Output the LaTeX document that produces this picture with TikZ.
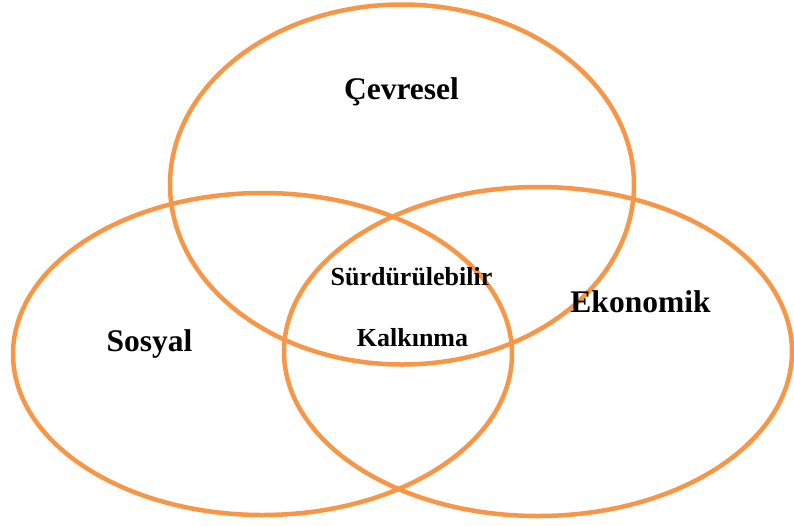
\documentclass[tikz,border=0pt]{standalone}
\usepackage{fontspec}
\setmainfont{Liberation Serif}
\usetikzlibrary{shapes.geometric}
\definecolor{vorange}{RGB}{247,150,70}
\begin{document}
\begin{tikzpicture}[x=1pt,y=-1pt,
  ring/.style={ellipse,draw=vorange,line width=4.5pt,inner sep=0pt,outer sep=0pt},
  biglabel/.style={anchor=base,font=\bfseries\fontsize{31.5}{36}\selectfont,inner sep=0pt},
  smalllabel/.style={anchor=base,font=\bfseries\fontsize{26}{30}\selectfont,inner sep=0pt}]
\useasboundingbox (0,0) rectangle (794,525);
\node[ring,minimum width=464pt,minimum height=360pt] (cevre) at (402,184.5) {};
\node[ring,minimum width=499pt,minimum height=322pt] (sosyal) at (262.5,354) {};
\node[ring,minimum width=508pt,minimum height=329pt] (ekonomi) at (538,351.5) {};
\node[biglabel] (tc) at (401.5,99) {Çevresel};
\node[biglabel] (ts) at (149.5,351.7) {Sosyal};
\node[biglabel] (te) at (640.5,312) {Ekonomik};
\node[smalllabel] (sk1) at (411.5,285) {Sürdürülebilir};
\node[smalllabel] (sk2) at (412.5,346.7) {Kalkınma};
\end{tikzpicture}
\end{document}
